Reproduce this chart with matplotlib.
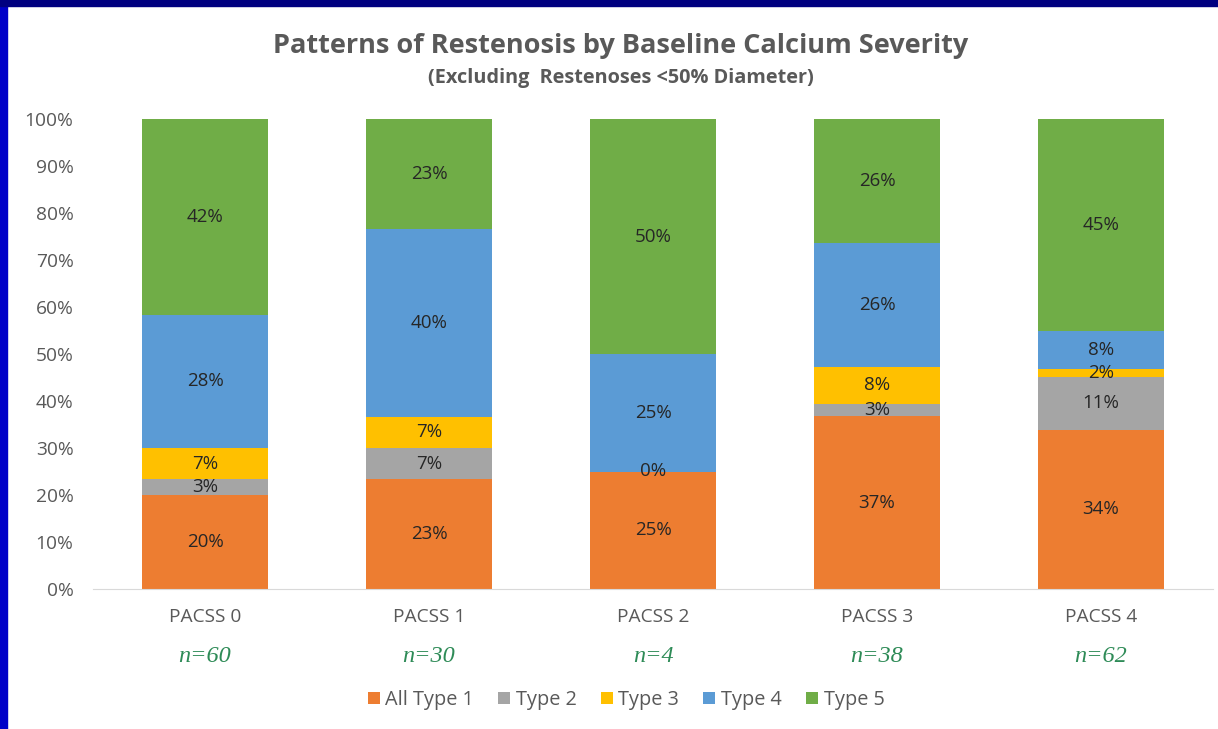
import matplotlib.pyplot as plt
import numpy as np

# data (percent of restenoses per PACSS grade)
categories = ['PACSS 0', 'PACSS 1', 'PACSS 2', 'PACSS 3', 'PACSS 4']
n_labels = ['n=60', 'n=30', 'n=4', 'n=38', 'n=62']
series_names = ['All Type 1', 'Type 2', 'Type 3', 'Type 4', 'Type 5']
type1 = [20.0, 23.3, 25.0, 36.8, 33.9]
type2 = [3.3, 6.7, 0.0, 2.6, 11.3]
type3 = [6.7, 6.7, 0.0, 7.9, 1.6]
type4 = [28.3, 40.0, 25.0, 26.3, 8.1]
type5 = [41.7, 23.3, 50.0, 26.3, 45.2]
colors = ['#ED7D31', '#A5A5A5', '#FFC000', '#5B9BD5', '#70AD47']

plt.rcParams['font.family'] = ['Open Sans', 'DejaVu Sans']

fig = plt.figure(figsize=(12.18, 7.29), dpi=100)
fig.patch.set_facecolor('white')
# blue frame of the slide
fig.patches.append(plt.Rectangle((0, 0), 7 / 1218, 1, transform=fig.transFigure,
                                 color='#0000C8', zorder=0))
fig.patches.append(plt.Rectangle((0, 1 - 6 / 729), 1, 6 / 729, transform=fig.transFigure,
                                 color='#000080', zorder=0))

ax = fig.add_axes([93 / 1218, 1 - 589 / 729, 1120 / 1218, 470 / 729])

x = np.arange(len(categories))
bottom = np.zeros(len(categories))
all_series = [type1, type2, type3, type4, type5]
drawn = set()
for name, vals, col in zip(series_names, all_series, colors):
    vals = np.array(vals)
    ax.bar(x, vals, 0.56, bottom=bottom, color=col, label=name, zorder=2)
    for xi, b, v in zip(x, bottom, vals):
        key = (xi, round(b + v / 2, 1))
        if key in drawn:
            continue
        drawn.add(key)
        ax.text(xi, b + v / 2, f'{v:.0f}%', ha='center', va='center',
                fontsize=13.5, color='#262626', zorder=3)
    bottom += vals

ax.set_xlim(-0.5, 4.5)
ax.set_ylim(0, 100)
ax.set_yticks(range(0, 101, 10))
ax.set_yticklabels([f'{v}%' for v in range(0, 101, 10)])
ax.set_xticks(x)
ax.set_xticklabels(categories)
ax.tick_params(axis='both', length=0, labelsize=13.8, colors='#595959')
ax.tick_params(axis='x', pad=14)
ax.tick_params(axis='y', pad=14)
for s in ['top', 'right', 'left']:
    ax.spines[s].set_visible(False)
ax.spines['bottom'].set_color('#D9D9D9')

for xi, nl in zip(x, n_labels):
    ax.text(xi, -14.3, nl, ha='center', va='center', fontsize=17.5,
            color='#2E8B57', style='italic', family='Liberation Serif')

fig.text(621 / 1218, 1 - 46 / 729, 'Patterns of Restenosis by Baseline Calcium Severity',
         ha='center', va='center', fontsize=19.5, fontweight='bold', color='#595959')
fig.text(621 / 1218, 1 - 78 / 729, '(Excluding  Restenoses <50% Diameter)',
         ha='center', va='center', fontsize=14.3, fontweight='bold', color='#595959')

leg = fig.legend(loc='center', bbox_to_anchor=(626 / 1218, 1 - 700 / 729), ncol=5,
                 frameon=False, fontsize=14.3, handlelength=0.6, handleheight=0.6,
                 handletextpad=0.3, columnspacing=1.2)
for t in leg.get_texts():
    t.set_color('#595959')

fig.savefig('out.png', dpi=100)
